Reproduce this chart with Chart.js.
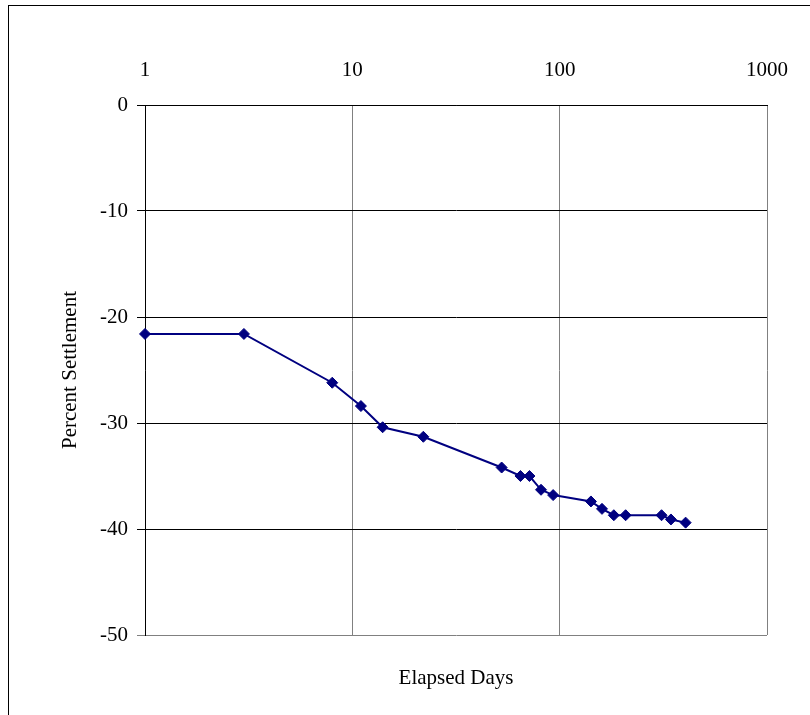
<!DOCTYPE html>
<html>
<head>
<meta charset="utf-8">
<script src="https://cdn.jsdelivr.net/npm/chart.js@4.4.1/dist/chart.umd.min.js"></script>
<style>
  html, body { margin: 0; padding: 0; background: #fff; overflow: hidden; }
  #wrap { position: relative; width: 810px; height: 715px; }
  #frame { position: absolute; left: 8px; top: 5px; width: 830px; height: 740px; border: 1px solid #000; pointer-events: none; }
  canvas { position: absolute; left: 0; top: 0; }
</style>
</head>
<body>
<div id="wrap">
  <canvas id="c" width="810" height="715"></canvas>
  <div id="frame"></div>
</div>
<script>
// Data
const elapsedDays = [1, 3, 8, 11, 14, 22, 52.5, 64.7, 71.5, 81.3, 93, 141.5, 160, 182.5, 208, 310, 344, 405];
const percentSettlement = [-21.6, -21.6, -26.2, -28.4, -30.4, -31.3, -34.2, -35.0, -35.0, -36.3, -36.8, -37.4, -38.1, -38.7, -38.7, -38.7, -39.1, -39.4];
const xTickValues = [1, 10, 100, 1000];
const yTickValues = [0, -10, -20, -30, -40, -50];
const xTitle = 'Elapsed Days';
const yTitle = 'Percent Settlement';

const points = elapsedDays.map((d, i) => ({ x: d, y: percentSettlement[i] }));
const FONT = 'Liberation Serif, "Times New Roman", serif';
const FS = 21;
const navy = '#000080';

new Chart(document.getElementById('c'), {
  type: 'line',
  data: {
    datasets: [{
      data: points,
      borderColor: navy,
      backgroundColor: navy,
      borderWidth: 2,
      pointStyle: 'rectRot',
      pointRadius: 5.5,
      pointBorderWidth: 1,
      pointBackgroundColor: navy,
      pointBorderColor: navy,
      tension: 0,
      clip: false
    }]
  },
  options: {
    responsive: false,
    animation: false,
    devicePixelRatio: 1,
    layout: { padding: { left: 0, right: 39, top: 0, bottom: 0 } },
    plugins: { legend: { display: false }, tooltip: { enabled: false } },
    scales: {
      x: {
        type: 'logarithmic',
        position: 'top',
        min: 1,
        max: 1000,
        afterBuildTicks: (s) => { s.ticks = xTickValues.map(v => ({ value: v })); },
        afterFit: (s) => { s.height = 105; },
        ticks: {
          autoSkip: false,
          maxRotation: 0,
          padding: 22,
          color: '#000',
          font: { family: FONT, size: FS },
          callback: (v) => String(v)
        },
        grid: { color: '#808080', lineWidth: 1, drawTicks: false },
        border: { display: true, color: '#000', width: 1 }
      },
      x2: {
        type: 'linear',
        position: 'bottom',
        afterFit: (s) => { s.height = 80; },
        ticks: { display: false },
        grid: { display: false, drawTicks: false },
        border: { display: false },
        title: {
          display: true,
          text: xTitle,
          color: '#000',
          font: { family: FONT, size: FS },
          padding: { top: 0, bottom: 24 }
        }
      },
      y: {
        type: 'linear',
        position: 'left',
        min: -50,
        max: 0,
        afterBuildTicks: (s) => { s.ticks = yTickValues.map(v => ({ value: v })); },
        afterFit: (s) => { s.width = 145; },
        ticks: {
          padding: 9,
          color: '#000',
          font: { family: FONT, size: FS },
          callback: (v) => String(v)
        },
        grid: {
          color: (ctx) => (ctx.tick && ctx.tick.value === -50) ? '#808080' : '#000',
          lineWidth: 1,
          drawTicks: true,
          tickLength: 8
        },
        border: { display: true, color: '#000', width: 1 },
        title: {
          display: true,
          text: yTitle,
          color: '#000',
          font: { family: FONT, size: FS },
          padding: { top: 58, bottom: 0 }
        }
      }
    }
  }
});
</script>
</body>
</html>
